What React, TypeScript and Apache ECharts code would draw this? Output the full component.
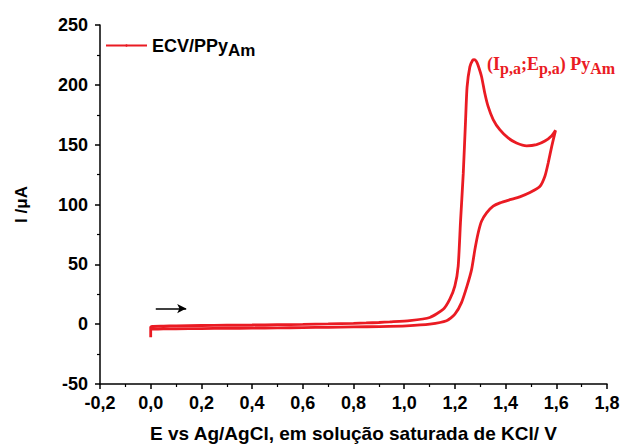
import React, { useEffect, useRef } from "react";
import * as echarts from "echarts";

// Forward (anodic) sweep: potential (V) and current (µA)
const forwardE = [0, 0, 0.005, 0.05, 0.1, 0.2, 0.3, 0.4, 0.5, 0.6, 0.7, 0.8, 0.85, 0.9, 0.943, 1.022, 1.101, 1.154, 1.18, 1.2, 1.213, 1.222, 1.233, 1.242, 1.248, 1.259, 1.27, 1.276, 1.285, 1.292, 1.305, 1.318, 1.331, 1.351, 1.377, 1.41, 1.443, 1.483, 1.522, 1.555, 1.582, 1.597];
const forwardI = [-11, -2.5, -1.8, -1.6, -1.4, -1.1, -0.9, -0.7, -0.4, -0.2, 0.2, 0.7, 1.0, 1.4, 1.9, 3.0, 5.6, 12.5, 21, 32, 48.6, 85, 126, 170, 198, 215, 220.5, 221, 219.5, 216, 207, 193, 182, 171, 162.5, 155.6, 151.4, 149, 150, 153, 157.5, 162];
// Reverse (cathodic) sweep
const reverseE = [1.597, 1.582, 1.568, 1.555, 1.535, 1.496, 1.456, 1.417, 1.378, 1.351, 1.325, 1.305, 1.292, 1.279, 1.266, 1.248, 1.226, 1.2, 1.167, 1.101, 1.009, 0.904, 0.8, 0.7, 0.6, 0.5, 0.4, 0.3, 0.2, 0.1, 0.05, 0.005];
const reverseI = [162, 148.6, 134.7, 123.6, 115, 110, 106.4, 104, 101.4, 98.6, 93, 86, 76.4, 62.5, 45.8, 32, 18, 8.3, 2.8, 0, -1.4, -2, -2.3, -2.6, -2.9, -3.1, -3.3, -3.5, -3.7, -3.9, -4.0, -4.2];
// Scan direction arrow (start and end)
const arrowE = [0.02, 0.14];
const arrowI = [13, 13];

const RED = "#ea1b23";
const SANS = "'Liberation Sans', Arial, sans-serif";
const SERIF = "'Liberation Serif', 'Times New Roman', serif";

export default function App() {
  const ref = useRef<HTMLDivElement>(null);
  useEffect(() => {
    if (!ref.current) return;
    const chart = echarts.init(ref.current, null, { renderer: "svg" });
    const data: number[][] = [];
    forwardE.forEach((e, i) => data.push([e, forwardI[i]]));
    reverseE.forEach((e, i) => data.push([e, reverseI[i]]));
    const axisCommon = {
      axisLine: { show: true, onZero: false, lineStyle: { color: "#000", width: 1.5 } },
      axisTick: { show: true, inside: false, length: 5, lineStyle: { color: "#000", width: 1.5 } },
      minorTick: { show: true, splitNumber: 2, length: 3, lineStyle: { color: "#000", width: 1.2 } },
      splitLine: { show: false },
      minorSplitLine: { show: false },
    };
    chart.setOption({
      animation: false,
      backgroundColor: "#fff",
      grid: { left: 100, right: 26, top: 25, bottom: 63, containLabel: false },
      legend: {
        left: 100,
        top: 27,
        itemWidth: 41,
        itemHeight: 3,
        itemGap: 5,
        data: ["ECV/PPyAm"],
        formatter: () => "{a|ECV/PPy}{b|Am}",
        textStyle: {
          rich: {
            a: { fontFamily: SANS, fontWeight: "bold", fontSize: 18, color: "#000", lineHeight: 18 },
            b: { fontFamily: SANS, fontWeight: "bold", fontSize: 17, color: "#000", lineHeight: 18, padding: [10, 0, 0, 0] },
          },
        },
      },
      xAxis: {
        type: "value",
        min: -0.2,
        max: 1.8,
        interval: 0.2,
        name: "E vs Ag/AgCl, em solução saturada de KCl/ V",
        nameLocation: "middle",
        nameGap: 40,
        nameTextStyle: { fontFamily: SANS, fontWeight: "bold", fontSize: 19, color: "#000" },
        axisLabel: {
          formatter: (v: number) => v.toFixed(1).replace(".", ","),
          fontFamily: SANS,
          fontWeight: "bold",
          fontSize: 18,
          color: "#000",
          margin: 10,
        },
        ...axisCommon,
      },
      yAxis: {
        type: "value",
        min: -50,
        max: 250,
        interval: 50,
        name: "I /μA",
        nameLocation: "middle",
        nameGap: 70,
        nameRotate: 90,
        nameTextStyle: { fontFamily: SANS, fontWeight: "bold", fontSize: 17, color: "#000" },
        axisLabel: {
          fontFamily: SANS,
          fontWeight: "bold",
          fontSize: 18,
          color: "#000",
          margin: 12,
        },
        ...axisCommon,
      },
      series: [
        {
          name: "ECV/PPyAm",
          type: "line",
          data,
          symbol: "none",
          smooth: 0.2,
          lineStyle: { color: RED, width: 2.8 },
          itemStyle: { color: RED },
          markLine: {
            silent: true,
            symbol: ["none", "arrow"],
            symbolSize: [7, 9],
            label: { show: false },
            lineStyle: { color: "#000", width: 1.5, type: "solid" },
            data: [[{ coord: [arrowE[0], arrowI[0]] }, { coord: [arrowE[1], arrowI[1]] }]],
          },
        },
      ],
      graphic: [
        {
          type: "text",
          left: 487,
          top: 51,
          style: {
            text: "{m|(I}{s|p,a}{m|;E}{s|p,a}{m|) Py}{s|Am}",
            rich: {
              m: { fontFamily: SERIF, fontWeight: "bold", fontSize: 18, fill: RED, lineHeight: 18 },
              s: { fontFamily: SERIF, fontWeight: "bold", fontSize: 16, fill: RED, lineHeight: 16, padding: [9, 0, 0, 0] },
            },
          },
        },
      ],
    });
    return () => chart.dispose();
  }, []);
  return <div ref={ref} style={{ position: "fixed", left: 0, top: 0, width: 633, height: 448 }} />;
}
